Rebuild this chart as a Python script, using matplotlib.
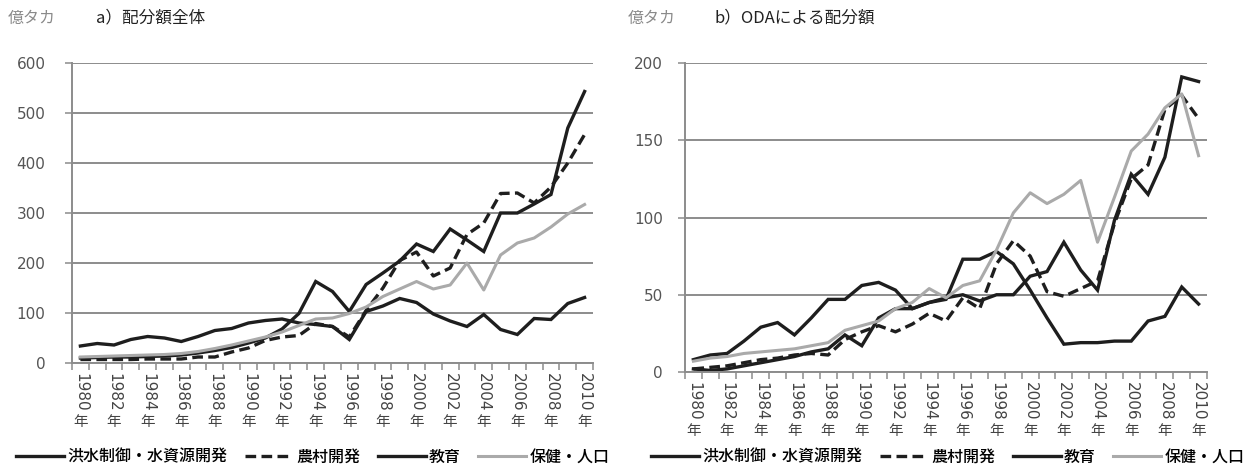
import numpy as np
import matplotlib
matplotlib.use("Agg")
import matplotlib.pyplot as plt
from matplotlib.font_manager import FontProperties

JP = "Noto Sans CJK JP"
NUM = "DejaVu Sans"

years = list(range(1980, 2011))
series_names = ["洪水制御・水資源開発", "農村開発", "教育", "保健・人口"]

# a) 配分額全体 (億タカ)
flood_all = [34, 39, 36, 47, 53, 50, 43, 53, 65, 69, 80, 85, 88, 80, 77, 73, 47, 103, 114, 129,
             121, 98, 84, 73, 97, 67, 57, 89, 87, 119, 131]
rural_all = [7, 7, 7, 7, 8, 8, 8, 12, 12, 22, 30, 45, 52, 55, 79, 73, 52, 105, 150, 205,
             222, 174, 190, 257, 280, 339, 340, 320, 352, 400, 457]
edu_all = [10, 11, 12, 12, 13, 14, 16, 20, 25, 31, 40, 50, 68, 99, 163, 143, 103, 157, 180, 204,
           238, 223, 268, 246, 223, 300, 300, 318, 337, 470, 543]
health_all = [12, 13, 14, 15, 16, 17, 19, 23, 29, 36, 44, 52, 62, 75, 88, 90, 99, 112, 133, 148,
              163, 148, 156, 200, 146, 216, 240, 250, 272, 298, 317]

# b) ODAによる配分額 (億タカ)
flood_oda = [8, 11, 12, 20, 29, 32, 24, 35, 47, 47, 56, 58, 53, 41, 45, 47, 73, 73, 78, 70,
             53, 35, 18, 19, 19, 20, 20, 33, 36, 55, 44]
rural_oda = [2, 3, 4, 6, 8, 9, 11, 12, 11, 21, 26, 30, 26, 31, 38, 33, 48, 41, 70, 85,
             75, 52, 49, 54, 59, 96, 125, 134, 170, 179, 164]
edu_oda = [2, 1, 2, 4, 6, 8, 10, 13, 15, 24, 17, 35, 41, 41, 45, 48, 50, 46, 50, 50,
           62, 65, 84, 66, 53, 98, 128, 115, 139, 191, 188]
health_oda = [7, 9, 10, 12, 13, 14, 15, 17, 19, 27, 30, 33, 41, 45, 54, 48, 56, 59, 79, 103,
              116, 109, 115, 124, 84, 113, 143, 154, 171, 180, 140]

W, H = 1249, 472
fig = plt.figure(figsize=(W / 100, H / 100), dpi=100)
ax1 = fig.add_axes([72 / W, 109 / H, 521 / W, 300 / H])
ax2 = fig.add_axes([685 / W, 100 / H, 522 / W, 309 / H])

GRID = "#8c8c8c"


def draw(ax, flood, rural, edu, health):
    x = np.arange(len(years))
    lines = []
    lines += ax.plot(x, flood, color="#1e1e1e", lw=2.4, solid_joinstyle="miter")
    lines += ax.plot(x, rural, color="#1e1e1e", lw=2.4, linestyle=(0, (3.2, 1.6)))
    lines += ax.plot(x, edu, color="#1e1e1e", lw=2.4, solid_joinstyle="miter")
    lines += ax.plot(x, health, color="#aaaaaa", lw=2.2)
    return lines


def style(ax, ymax, step, ypad):
    ax.set_xlim(-0.5, len(years) - 0.5)
    ax.set_ylim(0, ymax)
    ax.set_yticks(np.arange(0, ymax + 1, step))
    ax.yaxis.grid(True, color=GRID, lw=1.4)
    ax.set_axisbelow(True)
    for s in ["top", "right"]:
        ax.spines[s].set_visible(False)
    for s in ["left", "bottom"]:
        ax.spines[s].set_color(GRID)
        ax.spines[s].set_linewidth(1.4)
    ax.set_xticks(np.arange(-0.5, len(years), 1))
    ax.set_xticklabels([])
    ax.tick_params(axis="x", length=5, width=1.1, color=GRID)
    ax.tick_params(axis="y", length=5, width=1.1, color=GRID, labelsize=11,
                   labelcolor="#555555", pad=ypad)
    for lab in ax.get_yticklabels():
        lab.set_family(NUM)
    for i in range(0, len(years), 2):
        ax.annotate(str(years[i]), xy=(i, 0), xycoords=("data", "axes fraction"),
                    xytext=(0, -10), textcoords="offset pixels", rotation=-90,
                    ha="center", va="top", fontsize=11, color="#444444", family=NUM)
        ax.annotate("年", xy=(i, 0), xycoords=("data", "axes fraction"),
                    xytext=(0, -52), textcoords="offset pixels",
                    ha="center", va="top", fontsize=10.5, color="#444444", family=JP)


lines1 = draw(ax1, flood_all, rural_all, edu_all, health_all)
lines2 = draw(ax2, flood_oda, rural_oda, edu_oda, health_oda)
style(ax1, 600, 100, 14)
style(ax2, 200, 50, 11)

fig.text(8 / W, 1 - 18 / H, "億タカ", family=JP, fontsize=11.5, color="#8a8a8a", va="center")
fig.text(96 / W, 1 - 18 / H, "a）配分額全体", family=JP, fontsize=12, color="#222222", va="center")
fig.text(628 / W, 1 - 18 / H, "億タカ", family=JP, fontsize=11.5, color="#8a8a8a", va="center")
fig.text(714 / W, 1 - 18 / H, "b）ODAによる配分額", family=JP, fontsize=12, color="#222222", va="center")

prop = FontProperties(family=JP, size=11.5, weight="medium")
for lines, cx in [(lines1, 313), (lines2, 948)]:
    fig.legend(lines, series_names, loc="center", bbox_to_anchor=(cx / W, 15 / H), ncol=4,
               frameon=False, prop=prop, handlelength=3.0, handletextpad=0.2,
               columnspacing=1.1, borderaxespad=0, borderpad=0)

fig.savefig("out.png", dpi=100)
